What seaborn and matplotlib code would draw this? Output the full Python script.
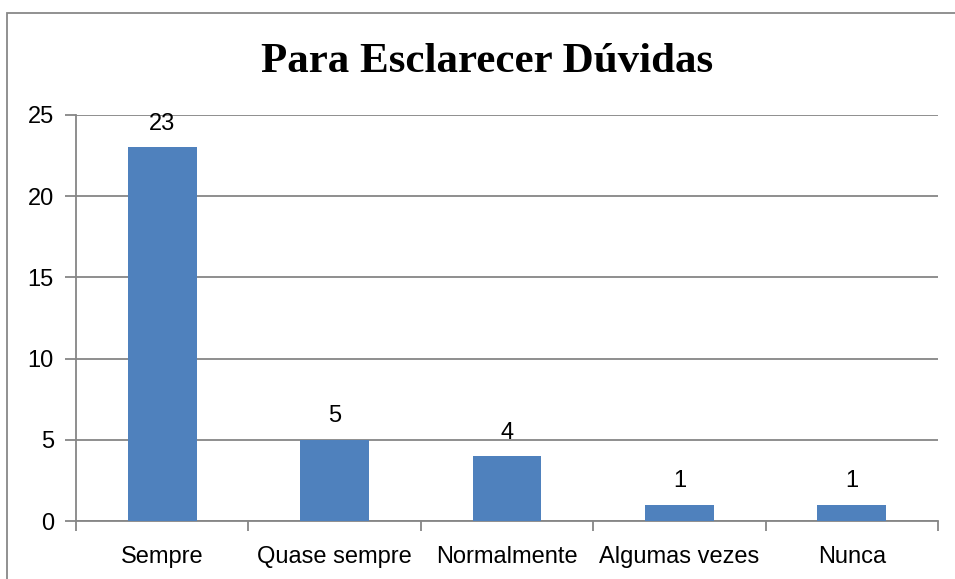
import numpy as np
import pandas as pd
import matplotlib.pyplot as plt
import seaborn as sns
from matplotlib.patches import Rectangle

categorias = ["Sempre", "Quase sempre", "Normalmente", "Algumas vezes", "Nunca"]
respostas = [23, 5, 4, 1, 1]
y_ticks = [0, 5, 10, 15, 20, 25]

df = pd.DataFrame({"categoria": categorias, "respostas": respostas})

sns.set_style("white")
plt.rcParams['font.family'] = ["Liberation Sans", "DejaVu Sans"]
plt.rcParams['text.color'] = "black"
plt.rcParams['xtick.color'] = "black"
plt.rcParams['ytick.color'] = "black"

fig = plt.figure(figsize=(9.55, 5.79), dpi=100)
ax = fig.add_axes([76 / 955, 1 - 521 / 579, (938 - 76) / 955, (521 - 115) / 579])

sns.barplot(data=df, x="categoria", y="respostas", color="#4F81BD", saturation=1,
            width=0.4, ax=ax, zorder=3, linewidth=0, edgecolor="none")

ax.set_ylim(0, 25)
ax.set_xlim(-0.5, len(categorias) - 0.5)
ax.set_xlabel("")
ax.set_ylabel("")

# gridlines
ax.yaxis.grid(True, color="#868686", linewidth=1.3)
ax.set_axisbelow(True)

for s in ["top", "right"]:
    ax.spines[s].set_visible(False)
for s in ["left", "bottom"]:
    ax.spines[s].set_color("#868686")
    ax.spines[s].set_linewidth(1.3)

# y axis ticks
ax.set_yticks(y_ticks)
ax.set_yticklabels([str(t) for t in y_ticks], fontsize=17, color="black")
ax.tick_params(axis="y", which="major", left=True, length=8, color="#868686", width=1.3,
               direction="out", pad=8)

# category labels, and boundary ticks below the axis
ax.set_xticks(range(len(categorias)))
ax.set_xticklabels(categorias, fontsize=17, color="black")
ax.tick_params(axis="x", which="major", length=0, pad=18)
ax.set_xticks(np.arange(-0.5, len(categorias), 1), minor=True)
ax.tick_params(axis="x", which="minor", bottom=True, length=7, color="#868686", width=1.3,
               direction="out")

ax.bar_label(ax.containers[0], labels=[str(v) for v in respostas], padding=9, fontsize=17,
             color="black")

fig.text(0.5 * (262 + 712) / 955, 1 - 62 / 579, "Para Esclarecer Dúvidas", ha="center", va="center",
         fontsize=31, fontweight="bold", color="black", family=["Liberation Serif", "DejaVu Serif"])

# outer border
fig.patches.append(Rectangle((7 / 955, -0.05), 1.0, 1 - 13 / 579 + 0.05, transform=fig.transFigure,
                             fill=False, edgecolor="#888888", linewidth=1.3))

fig.savefig("out.png", dpi=100)
